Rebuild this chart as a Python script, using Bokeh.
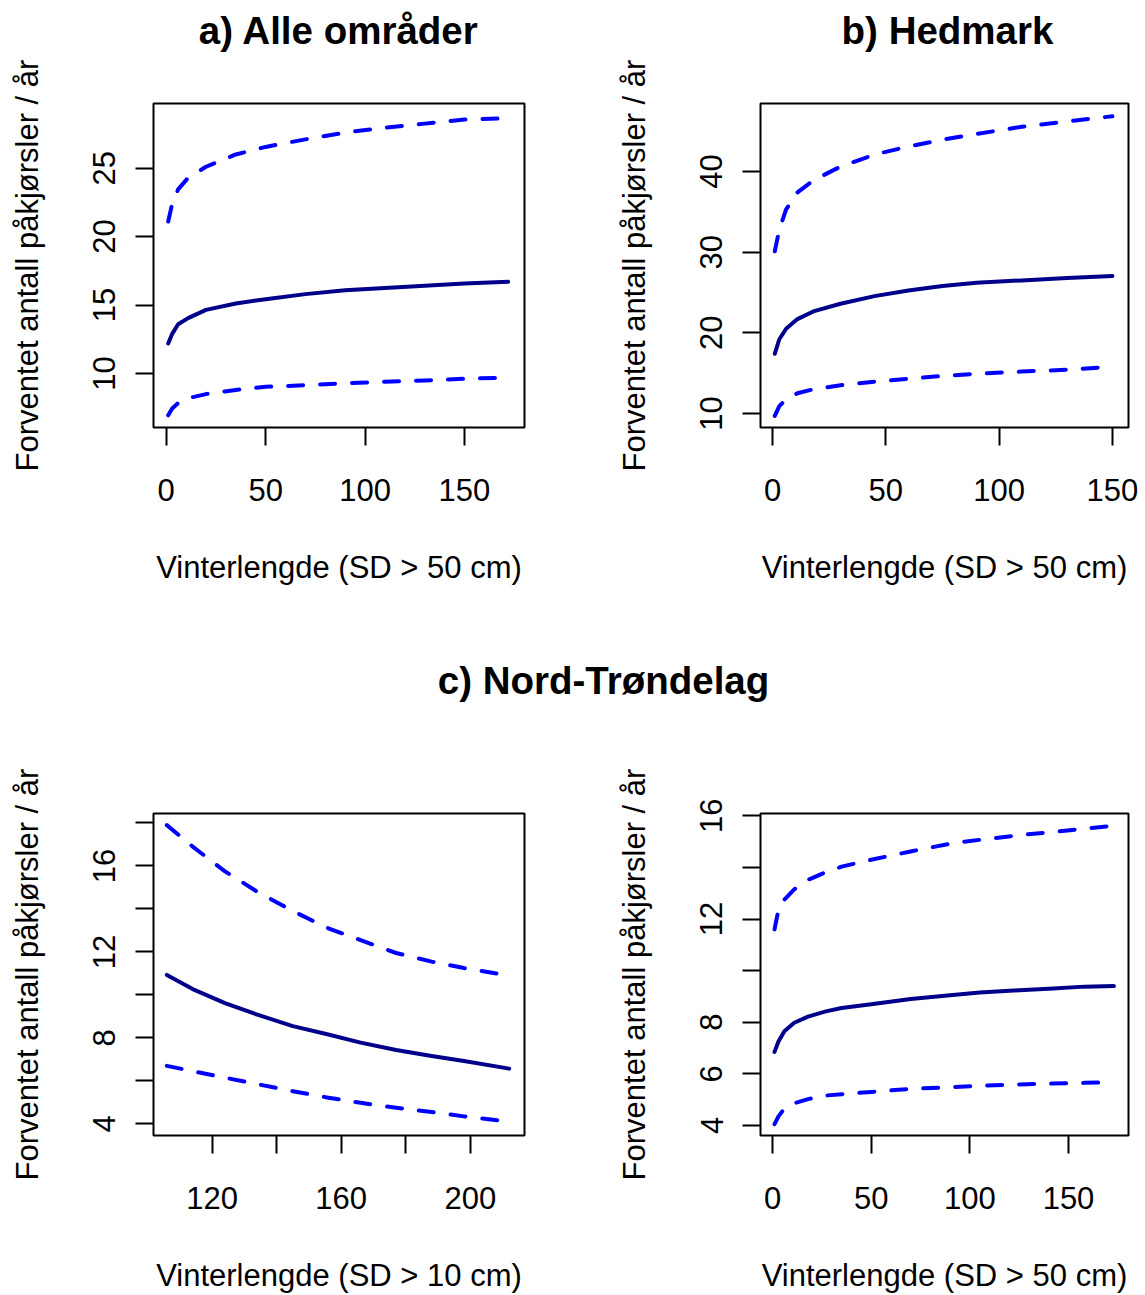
from bokeh.plotting import figure
from bokeh.models import Range1d, FixedTicker
from bokeh.layouts import column, row
from bokeh.embed import file_html
from bokeh.resources import INLINE
from bokeh.core.properties import value

FONT = "Liberation Sans"

# ---------------- data ----------------
# a) Alle områder
a_x = [1, 3, 6, 11, 20, 35, 50, 70, 90, 110, 130, 150, 172]
a_mean = [12.2, 12.9, 13.6, 14.05, 14.65, 15.12, 15.43, 15.8, 16.08, 16.25, 16.42, 16.58, 16.7]
a_upper = [21.1, 22.4, 23.45, 24.3, 25.1, 26.0, 26.55, 27.1, 27.6, 27.95, 28.25, 28.55, 28.65]
a_lower = [6.95, 7.45, 7.85, 8.2, 8.5, 8.8, 9.03, 9.15, 9.3, 9.4, 9.5, 9.62, 9.7]

# b) Hedmark
b_x = [1, 3, 6, 11, 18, 30, 45, 60, 75, 90, 110, 130, 150]
b_mean = [17.4, 19.2, 20.5, 21.7, 22.65, 23.6, 24.55, 25.25, 25.8, 26.2, 26.5, 26.8, 27.05]
b_upper = [30.1, 32.8, 35.3, 37.4, 38.9, 40.6, 42.1, 43.1, 43.95, 44.65, 45.55, 46.2, 46.85]
b_lower = [9.7, 10.9, 11.8, 12.5, 13.0, 13.5, 13.95, 14.3, 14.65, 14.92, 15.2, 15.42, 15.8]

# c) Nord-Trøndelag (SD > 10 cm)
c_x = [106, 114, 124, 134, 145, 156, 166, 177, 188, 198, 212]
c_mean = [10.93, 10.27, 9.62, 9.08, 8.55, 8.16, 7.78, 7.44, 7.16, 6.93, 6.57]
c_upper = [17.9, 16.9, 15.75, 14.8, 13.9, 13.1, 12.55, 11.95, 11.55, 11.25, 10.9]
c_lower = [6.7, 6.45, 6.15, 5.85, 5.52, 5.22, 4.98, 4.75, 4.55, 4.35, 4.1]

# Nord-Trøndelag (SD > 50 cm)
d_x = [1, 3, 6, 11, 18, 27, 35, 50, 70, 90, 105, 125, 140, 158, 173]
d_mean = [6.85, 7.25, 7.65, 7.98, 8.22, 8.42, 8.55, 8.7, 8.9, 9.05, 9.15, 9.24, 9.3, 9.38, 9.4]
d_upper = [11.6, 12.35, 12.75, 13.15, 13.52, 13.82, 14.03, 14.3, 14.62, 14.92, 15.07, 15.25, 15.36, 15.5, 15.62]
d_lower = [4.05, 4.35, 4.66, 4.86, 5.02, 5.16, 5.21, 5.3, 5.42, 5.48, 5.54, 5.59, 5.62, 5.65, 5.67]

# ticks
a_xticks = [0, 50, 100, 150]
a_yticks = [10, 15, 20, 25]
b_xticks = [0, 50, 100, 150]
b_yticks = [10, 20, 30, 40]
c_xticks = [120, 140, 160, 180, 200]
c_xhidden = [140, 180]
c_yticks = [4, 6, 8, 10, 12, 14, 16, 18]
c_yhidden = [6, 10, 14, 18]
d_xticks = [0, 50, 100, 150]
d_yticks = [4, 6, 8, 10, 12, 14, 16]
d_yhidden = [10, 14]

title_a = "a) Alle områder"
title_b = "b) Hedmark"
title_c = "c) Nord-Trøndelag"
xlab50 = "Vinterlengde (SD > 50 cm)"
xlab10 = "Vinterlengde (SD > 10 cm)"
ylab = "Forventet antall påkjørsler / år"

MEAN_COLOR = "#00008B"
CI_COLOR = "#0000FF"


def panel(x, mean, up, lo, xr, yr, xt, yt, xlab, w, h, bl, br, bt, bb,
          xhide=(), yhide=()):
    p = figure(width=w, height=h, x_range=Range1d(*xr), y_range=Range1d(*yr),
               toolbar_location=None, output_backend="svg", title=None,
               min_border_left=bl, min_border_right=br,
               min_border_top=bt, min_border_bottom=bb)
    p.grid.visible = False
    p.outline_line_color = "black"
    p.outline_line_width = 2
    p.background_fill_color = "white"
    p.border_fill_color = "white"
    p.line(x, mean, line_color=MEAN_COLOR, line_width=4,
           line_join="round", line_cap="round")
    for s in (up, lo):
        p.line(x, s, line_color=CI_COLOR, line_width=4, line_dash="15 17",
               line_cap="round", line_join="round")
    p.xaxis.ticker = FixedTicker(ticks=xt)
    p.yaxis.ticker = FixedTicker(ticks=yt)
    if xhide:
        p.xaxis.major_label_overrides = {t: "" for t in xhide}
    if yhide:
        p.yaxis.major_label_overrides = {t: "" for t in yhide}
    p.xaxis.axis_label = xlab
    p.yaxis.axis_label = ylab
    for ax in p.axis:
        ax.axis_line_color = None
        ax.major_tick_out = 18
        ax.major_tick_in = 0
        ax.major_tick_line_width = 2
        ax.major_tick_line_color = "black"
        ax.minor_tick_line_color = None
        ax.major_label_text_font = FONT
        ax.major_label_text_font_size = "31px"
        ax.major_label_text_color = "black"
        ax.axis_label_text_font = FONT
        ax.axis_label_text_font_size = "31px"
        ax.axis_label_text_font_style = "normal"
        ax.axis_label_text_color = "black"
        ax.axis_label_standoff = 46
    p.xaxis.major_label_standoff = 33
    p.yaxis.major_label_standoff = 20
    p.yaxis.major_label_orientation = "parallel"
    return p


def strip(w, h, xs, ys, texts):
    s = figure(width=w, height=h, x_range=Range1d(0, w), y_range=Range1d(h, 0),
               toolbar_location=None, output_backend="svg", title=None,
               x_axis_location=None, y_axis_location=None, min_border=0)
    s.grid.visible = False
    s.outline_line_color = None
    s.background_fill_color = "white"
    s.border_fill_color = "white"
    s.text(x=xs, y=ys, text=texts, text_align="center", text_baseline="middle",
           text_font=value(FONT), text_font_style="bold", text_font_size="38.5px",
           text_color="black")
    return s


s1 = strip(1145, 52, [338.5, 947], [30, 30], [title_a, title_b])

fa = panel(a_x, a_mean, a_upper, a_lower, (-6.4, 180.2), (6.06, 29.72),
           a_xticks, a_yticks, xlab50, 580, 578, 153, 56, 51, 203)
fb = panel(b_x, b_mean, b_upper, b_lower, (-5.3, 157.1), (8.26, 48.43),
           b_xticks, b_yticks, xlab50, 565, 578, 180, 17, 51, 203)

s2 = strip(1145, 100, [603], [50], [title_c])

fc = panel(c_x, c_mean, c_upper, c_lower, (101.87, 216.75), (3.46, 18.44),
           c_xticks, c_yticks, xlab10, 580, 565, 153, 56, 83, 158,
           xhide=c_xhidden, yhide=c_yhidden)
fd = panel(d_x, d_mean, d_upper, d_lower, (-6.1, 180.4), (3.61, 16.09),
           d_xticks, d_yticks, xlab50, 565, 565, 180, 17, 83, 158,
           yhide=d_yhidden)

layout = column(s1, row(fa, fb), s2, row(fc, fd))

open("out.html", "w").write(file_html(layout, INLINE))
